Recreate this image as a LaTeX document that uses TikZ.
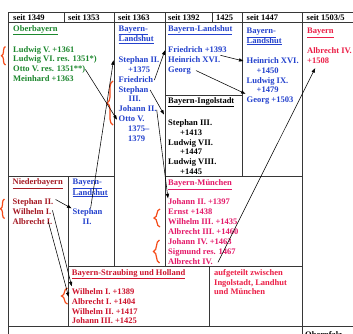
\documentclass[tikz,border=0pt]{standalone}
\usepackage{fontspec}
\setmainfont{Liberation Serif}
\usetikzlibrary{arrows.meta,decorations.pathreplacing}
\definecolor{obgreen}{RGB}{28,135,45}
\definecolor{lsblue}{RGB}{35,65,205}
\definecolor{nbred}{RGB}{165,25,35}
\definecolor{sbred}{RGB}{205,20,45}
\definecolor{mpink}{RGB}{228,25,105}
\definecolor{byred}{RGB}{235,30,70}
\definecolor{braceor}{RGB}{245,75,25}
\definecolor{gridc}{RGB}{55,55,55}
\newcommand\chfont{\fontsize{8.5}{10}\selectfont\bfseries}
\begin{document}
\begin{tikzpicture}[x=1pt,y=-1pt,
  ln/.style={anchor=base west, inner sep=0pt, text height=6pt, text depth=2pt, font=\chfont},
  gridline/.style={draw=gridc, line width=0.7pt},
  arr/.style={draw=black, line width=0.55pt, -{Triangle[length=4.5pt,width=3.2pt]}},
  br/.style={draw=braceor, line width=1.2pt, decorate, decoration={brace, amplitude=#1}},
]
\useasboundingbox (0,0) rectangle (353,333);
\fill[white] (0,0) rectangle (353,333);

% grid
\draw[gridline] (8.5,12) -- (360,12);
\draw[gridline] (8.5,22) -- (360,22);
\draw[gridline] (8.5,12) -- (8.5,340);
\draw[gridline] (64,12) -- (64,22);
\draw[gridline] (114,12) -- (114,266);
\draw[gridline] (165,12) -- (165,266);
\draw[gridline] (212,12) -- (212,22);
\draw[gridline] (242,12) -- (242,176);
\draw[gridline] (302.5,12) -- (302.5,340);
\draw[gridline] (165,95.7) -- (242,95.7);
\draw[gridline] (8.5,176) -- (114,176);
\draw[gridline] (165,176) -- (302.5,176);
\draw[gridline] (68,176) -- (68,326);
\draw[gridline] (68,266) -- (302.5,266);
\draw[gridline] (209,266) -- (209,326);
\draw[gridline] (8.5,326) -- (360,326);

% header
\node[ln] (h1) at (13,20.5) {seit 1349};
\node[ln] (h2) at (68,20.5) {seit 1353};
\node[ln] (h3) at (118,20.5) {seit 1363};
\node[ln] (h4) at (168,20.5) {seit 1392};
\node[ln] (h5) at (216,20.5) {1425};
\node[ln] (h6) at (246.5,20.5) {seit 1447};
\node[ln] (h7) at (306.5,20.5) {seit 1503/5};

% Oberbayern
\begin{scope}[every node/.append style={text=obgreen}]
\node[ln] (ob0) at (13,31) {\underline{Oberbayern}};
\node[ln] (ob1) at (13,52) {Ludwig V. +1361};
\node[ln] (ob2) at (13,61.8) {Ludwig VI. res. 1351*)};
\node[ln] (ob3) at (13,71.4) {Otto V. res. 1351**)};
\node[ln] (ob4) at (13,81.2) {Meinhard +1363};
\end{scope}

% Bayern-Landshut 1363
\begin{scope}[every node/.append style={text=lsblue}]
\node[ln] (la0) at (118.5,31) {\underline{Bayern-}};
\node[ln] (la1) at (118.5,41.5) {\underline{Landshut}};
\node[ln] (la2) at (118.5,62.3) {Stephan II.};
\node[ln] (la3) at (128,72.2) {+1375};
\node[ln] (la4) at (118.5,82.1) {Friedrich};
\node[ln] (la5) at (118.5,92) {Stephan};
\node[ln] (la6) at (128.5,101.9) {III.};
\node[ln] (la7) at (118.5,111.8) {Johann II.};
\node[ln] (la8) at (118.5,121.7) {Otto V.};
\node[ln] (la9) at (128,131.6) {1375–};
\node[ln] (la10) at (128,141.5) {1379};
\end{scope}

% Bayern-Landshut 1392
\begin{scope}[every node/.append style={text=lsblue}]
\node[ln] (lb0) at (168,31) {\underline{Bayern-Landshut}};
\node[ln] (lb1) at (168,52.3) {Friedrich +1393};
\node[ln] (lb2) at (168,62.5) {Heinrich XVI.};
\node[ln] (lb3) at (168,72.6) {Georg};
\end{scope}

% Bayern-Ingolstadt
\node[ln] (in0) at (168,103) {\underline{Bayern-Ingolstadt}};
\node[ln] (in1) at (168,125.7) {Stephan III.};
\node[ln] (in2) at (180,135.4) {+1413};
\node[ln] (in3) at (168,145.1) {Ludwig VII.};
\node[ln] (in4) at (180,154.8) {+1447};
\node[ln] (in5) at (168,164.5) {Ludwig VIII.};
\node[ln] (in6) at (180,174.2) {+1445};

% Bayern-Landshut 1447
\begin{scope}[every node/.append style={text=lsblue}]
\node[ln] (lc0) at (246.5,33.5) {\underline{Bayern-}};
\node[ln] (lc1) at (246.5,43) {\underline{Landshut}};
\node[ln] (lc2) at (246.5,63) {Heinrich XVI.};
\node[ln] (lc3) at (256.5,73) {+1450};
\node[ln] (lc4) at (246.5,83) {Ludwig IX.};
\node[ln] (lc5) at (256.5,92.5) {+1479};
\node[ln] (lc6) at (246.5,102) {Georg +1503};
\end{scope}

% Bayern 1503/5
\begin{scope}[every node/.append style={text=byred}]
\node[ln] (by0) at (307,33.5) {\underline{Bayern}};
\node[ln] (by1) at (307,53.5) {Albrecht IV.};
\node[ln] (by2) at (307,63) {+1508};
\end{scope}

% Niederbayern
\begin{scope}[every node/.append style={text=nbred}]
\node[ln] (nb0) at (12.5,184.5) {\underline{Niederbayern}};
\node[ln] (nb1) at (12.5,204.5) {Stephan II.};
\node[ln] (nb2) at (12.5,214.5) {Wilhelm I.};
\node[ln] (nb3) at (12.5,224) {Albrecht I.};
\end{scope}

% Bayern-Landshut (Niederbayern)
\begin{scope}[every node/.append style={text=lsblue}]
\node[ln] (ld0) at (72.5,184.5) {\underline{Bayern-}};
\node[ln] (ld1) at (72.5,195) {\underline{Landshut}};
\node[ln] (ld2) at (72.5,214.5) {Stephan};
\node[ln] (ld3) at (82.5,224) {II.};
\end{scope}

% Bayern-Muenchen
\begin{scope}[every node/.append style={text=mpink}]
\node[ln] (mu0) at (168,185.5) {\underline{Bayern-München}};
\node[ln] (mu1) at (168,204.5) {Johann II. +1397};
\node[ln] (mu2) at (168,214.5) {Ernst +1438};
\node[ln] (mu3) at (168,224.5) {Wilhelm III. +1435};
\node[ln] (mu4) at (168,234.5) {Albrecht III. +1460};
\node[ln] (mu5) at (168,244.5) {Johann IV. +1463};
\node[ln] (mu6) at (168,254.5) {Sigmund res. 1467};
\node[ln] (mu7) at (168,264.3) {Albrecht IV.};
\end{scope}

% Straubing und Holland
\begin{scope}[every node/.append style={text=sbred}]
\node[ln] (sb0) at (71.7,275.3) {\underline{Bayern-Straubing und Holland}};
\node[ln] (sb1) at (71.7,294.5) {Wilhelm I. +1389};
\node[ln] (sb2) at (71.7,304.2) {Albrecht I. +1404};
\node[ln] (sb3) at (71.7,314) {Wilhelm II. +1417};
\node[ln] (sb4) at (71.7,323.7) {Johann III. +1425};
\end{scope}

% aufgeteilt
\begin{scope}[every node/.append style={text=byred}]
\node[ln] (au0) at (214,275.5) {aufgeteilt zwischen};
\node[ln] (au1) at (214,285.2) {Ingolstadt, Landhut};
\node[ln] (au2) at (214,294.9) {und München};
\end{scope}

% Oberpfalz (cut off)
\node[ln] (op) at (305,337.5) {\underline{Oberpfalz}};

% braces
\draw[br=4pt] (5.5,65) -- (5.5,46.5);
\draw[br=6pt] (113,125) -- (113,81);
\draw[br=4pt] (4.5,218.5) -- (4.5,199);
\draw[br=6pt] (160,227) -- (160,209);
\draw[br=6pt] (159.5,263) -- (159.5,240);
\draw[br=6pt] (67.5,304) -- (67.5,288);

% arrows
\draw[arr] ([xshift=3pt]ld2.north) -- ([xshift=-5pt]la2.west);
\draw[arr] (ob3.east) -- ([xshift=-1.5pt]la8.west);
\draw[arr] ([xshift=1pt]la4.east) -- ([xshift=-3pt]lb1.west);
\draw[arr] ([xshift=1.5pt]la5.east) -- ([xshift=-4pt,yshift=5pt]in1.north west);
\draw[arr] (la7.east) -- (mu1.north west);
\draw[arr] ([yshift=1pt]lb2.north east) -- ([xshift=-3pt]lc2.west);
\draw[arr] ([xshift=5pt]lb3.east) -- ([xshift=-1pt,yshift=2pt]lc6.north west);
\draw[arr] ([xshift=5pt]mu7.east) -- ([xshift=-3pt,yshift=-3pt]by2.south);
\draw[arr] ([xshift=2pt,yshift=3pt]nb1.east) -- ([xshift=-1pt]ld2.north west);
\draw[arr] ([xshift=1pt,yshift=2pt]nb2.east) -- ([yshift=2pt]sb1.north west);
\draw[arr] ([xshift=-4pt]nb3.east) -- ([xshift=-3pt,yshift=1pt]sb2.north west);
\end{tikzpicture}
\end{document}
